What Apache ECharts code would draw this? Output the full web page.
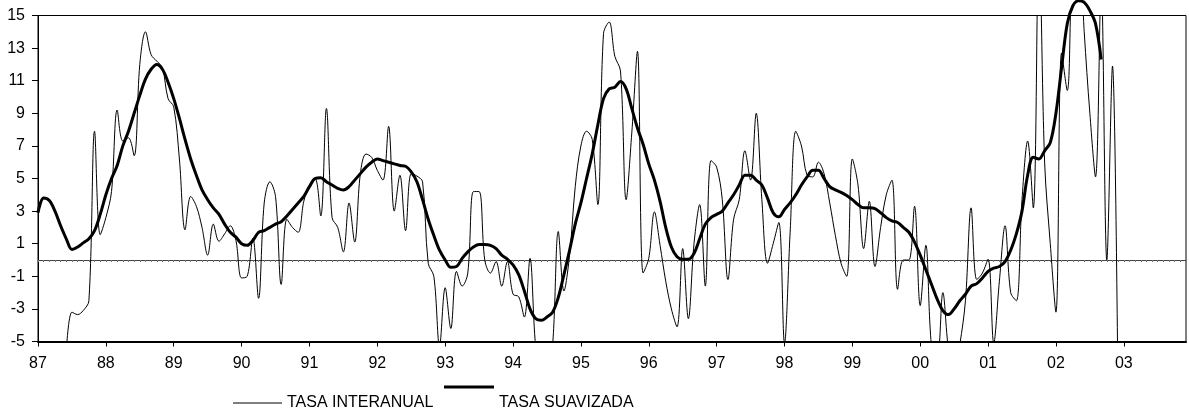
<!DOCTYPE html>
<html>
<head>
<meta charset="utf-8">
<script src="https://cdn.jsdelivr.net/npm/echarts@6/dist/echarts.min.js"></script>
<style>
html,body{margin:0;padding:0;background:#fff;}
#chart{width:1189px;height:417px;}
</style>
</head>
<body>
<div id="chart"></div>
<script>
// Year tick labels (two-digit), monthly categories from Jan 1987 to Dec 2003
const yearLabels = ['87','88','89','90','91','92','93','94','95','96','97','98','99','00','01','02','03'];
const monthNames = ['01','02','03','04','05','06','07','08','09','10','11','12'];
const categories = [];
yearLabels.forEach(y => monthNames.forEach(m => categories.push(y + '-' + m)));

// TASA INTERANUAL (monthly, starting Jan 1987)
const tasaInteranual = [
  null, null, null, null, null, -5.6, -3.2, -3.35, -3.1, -2.5, 7.9, 1.55,
  2.6, 4.2, 9.2, 7.3, 7.5, 6.4, 12.0, 14.0, 12.6, 12.2, 11.8, 9.9,
  9.4, 6.2, 1.85, 3.9, 3.3, 2.0, 0.3, 2.2, 1.15, 1.6, 2.1, 1.2,
  -1.1, -1.0, 1.35, -2.35, 3.5, 4.8, 3.9, -1.5, 2.5, 2.0, 1.7, 3.6,
  4.6, 5.0, 2.7, 9.3, 2.6, 2.0, 0.5, 3.5, 1.1, 5.3, 6.5, 6.3,
  5.5, 4.9, 8.2, 3.0, 5.2, 1.8, 5.3, 5.15, 4.8, -0.2, -1.0, -5.3,
  -1.7, -4.2, -0.7, -1.6, -0.8, 4.2, 4.2, 0.0, -0.8, -0.1, -1.6, -0.1,
  -2.1, -2.25, -3.5, 0.1, -5.3, -7.0, -7.0, -5.2, 1.75, -1.9, 0.3, 4.5,
  7.0, 7.9, 7.4, 3.4, 13.9, 14.6, 12.5, 11.6, 3.7, 7.8, 12.8, -0.8,
  0.1, 2.95, 0.9, -1.3, -3.0, -4.1, 0.7, -3.6, 1.0, 3.4, -1.6, 6.1,
  5.7, 3.7, -1.2, 2.5, 3.7, 6.7, 4.9, 9.0, 3.7, -0.2, 1.0, 2.3,
  -5.1, 1.7, 7.9, 7.0, 5.2, 5.1, 6.0, 5.3, 3.5, 1.5, -0.2, -1.0,
  6.2, 4.6, 0.7, 3.6, -0.4, 2.0, 4.0, 4.9, -1.8, 0.0, 0.0, 3.3,
  -2.8, 0.9, -5.3, -6.0, -2.0, -5.5, -7.0, -5.2, -2.5, 3.2, -1.2, -0.8,
  0.05, -5.1, -1.3, 2.1, -2.0, -2.5, 3.7, 7.3, 3.2, 20.0, 6.0, 1.0,
  -3.2, 12.7, 10.4, 19.0, 20.0, 14.0, 9.0, 5.1, 17.0, 0.0, 11.9, -9.0
];

// TASA SUAVIZADA (monthly, starting Jan 1987)
const tasaSuavizada = [
  2.9, 3.8, 3.65, 3.0, 2.1, 1.3, 0.65, 0.8, 1.05, 1.3, 1.8, 2.8,
  4.0, 5.0, 5.8, 7.0, 7.9, 9.0, 10.1, 11.1, 11.7, 12.0, 11.7, 10.9,
  9.9, 8.7, 7.4, 6.2, 5.2, 4.3, 3.7, 3.2, 2.8, 2.2, 1.7, 1.4,
  1.0, 0.9, 1.2, 1.7, 1.8, 2.0, 2.2, 2.35, 2.7, 3.1, 3.5, 3.9,
  4.5, 5.0, 5.05, 4.8, 4.6, 4.4, 4.3, 4.5, 4.9, 5.3, 5.7, 6.0,
  6.2, 6.1, 6.0, 5.9, 5.8, 5.75, 5.4, 4.8, 3.7, 2.5, 1.5, 0.6,
  0.0, -0.45, -0.4, 0.1, 0.5, 0.8, 0.95, 0.95, 0.9, 0.7, 0.3, 0.05,
  -0.3, -0.9, -1.9, -3.0, -3.6, -3.7, -3.5, -3.2, -2.3, -0.9, 0.6, 2.2,
  3.5, 5.0, 6.5, 8.3, 9.9, 10.5, 10.6, 10.95, 10.5, 9.3, 8.1, 7.1,
  5.9, 4.9, 3.6, 2.0, 0.8, 0.2, 0.05, 0.05, 0.4, 1.3, 2.2, 2.6,
  2.8, 3.0, 3.5, 4.0, 4.6, 5.2, 5.2, 4.9, 4.6, 3.8, 2.9, 2.65,
  3.1, 3.5, 4.0, 4.6, 5.1, 5.5, 5.5, 5.0, 4.5, 4.3, 4.15, 3.95,
  3.7, 3.4, 3.2, 3.2, 3.15, 2.9, 2.6, 2.4, 2.3, 2.0, 1.7, 1.1,
  0.3, -0.6, -1.5, -2.4, -3.1, -3.35, -3.0, -2.5, -2.1, -1.6, -1.45, -1.1,
  -0.7, -0.5, -0.4, -0.1, 0.6, 1.6, 3.0, 5.2, 6.3, 6.2, 6.7, 7.2,
  9.0, 11.8, 14.5, 15.6, 15.9, 15.8, 15.3, 14.5, 12.3
];

const FONT = '"Liberation Sans", Arial, sans-serif';
const chart = echarts.init(document.getElementById('chart'), null, {renderer: 'canvas'});
chart.setOption({
  animation: false,
  backgroundColor: '#ffffff',
  textStyle: {fontFamily: FONT, color: '#000'},
  grid: {
    left: 38, right: 3, top: 15.5, bottom: 75.5,
    show: true, borderColor: '#000', borderWidth: 1, backgroundColor: 'transparent'
  },
  legend: [
    {
      data: ['TASA INTERANUAL'],
      left: 233, top: 395, padding: 0,
      itemWidth: 49, itemHeight: 1,
      icon: 'path://M0,0H49V1H0Z',
      itemStyle: {color: '#000', borderWidth: 0},
      textStyle: {fontFamily: FONT, fontSize: 16, color: '#000'}
    },
    {
      data: ['TASA SUAVIZADA'],
      left: 444, top: 385.5, padding: 0,
      itemWidth: 50, itemHeight: 35,
      icon: 'path://M0,0H50V3H0Z M0,34.99H0.01V35H0Z',
      itemStyle: {color: '#000', borderWidth: 0},
      textStyle: {fontFamily: FONT, fontSize: 16, color: '#000'}
    }
  ],
  xAxis: [
    {
      type: 'category',
      data: categories,
      boundaryGap: false,
      position: 'bottom',
      axisLine: {onZero: false, lineStyle: {color: '#000', width: 2}},
      axisTick: {show: true, interval: 11, length: 5, lineStyle: {color: '#000', width: 1}},
      axisLabel: {
        interval: 11, margin: 14, color: '#000', fontSize: 16, fontFamily: FONT,
        formatter: v => v.slice(0, 2)
      },
      splitLine: {show: false}
    },
    {
      type: 'category',
      data: categories,
      boundaryGap: false,
      position: 'bottom',
      axisLine: {show: true, onZero: true, lineStyle: {color: '#444', width: 1}},
      axisTick: {show: true, interval: 0, length: 2, lineStyle: {color: '#777', width: 1}},
      axisLabel: {show: false},
      splitLine: {show: false}
    }
  ],
  yAxis: {
    type: 'value',
    min: -5, max: 15, interval: 2,
    axisLine: {show: true, lineStyle: {color: '#000', width: 1}},
    axisTick: {show: true, length: 6, lineStyle: {color: '#000'}},
    axisLabel: {margin: 13, color: '#000', fontSize: 16, fontFamily: FONT},
    splitLine: {show: false}
  },
  series: [
    {
      name: 'TASA INTERANUAL',
      type: 'line',
      xAxisIndex: 0,
      data: tasaInteranual,
      smooth: 0.35,
      symbol: 'none',
      showSymbol: false,
      lineStyle: {color: '#000', width: 1},
      itemStyle: {color: '#000'},
      z: 2
    },
    {
      name: 'TASA SUAVIZADA',
      type: 'line',
      xAxisIndex: 0,
      data: tasaSuavizada,
      smooth: 0.35,
      symbol: 'none',
      showSymbol: false,
      clip: false,
      lineStyle: {color: '#000', width: 3},
      itemStyle: {color: '#000'},
      z: 3
    }
  ]
});
</script>
</body>
</html>
